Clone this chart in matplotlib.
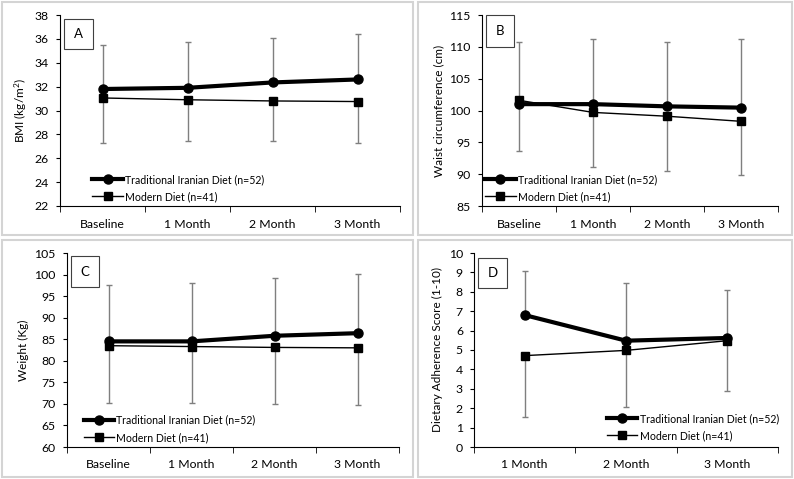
import matplotlib
matplotlib.use("Agg")
import matplotlib.pyplot as plt
from matplotlib.patches import Rectangle
import numpy as np

plt.rcParams['font.family'] = ['Lato', 'DejaVu Sans']
plt.rcParams['font.size'] = 8
plt.rcParams['mathtext.default'] = 'regular'

# values (means, and SD from error bar caps)
months4 = ['Baseline', '1 Month', '2 Month', '3 Month']
months3 = ['1 Month', '2 Month', '3 Month']

bmi_trad = [31.8, 31.9, 32.35, 32.6]
bmi_trad_sd = [3.7, 3.85, 3.7, 3.8]
bmi_mod = [31.05, 30.9, 30.8, 30.75]
bmi_mod_sd = [3.75, 3.45, 3.35, 3.45]

waist_trad = [101.0, 101.0, 100.65, 100.45]
waist_trad_sd = [9.8, 10.3, 10.15, 10.75]
waist_mod = [101.6, 99.7, 99.1, 98.3]
waist_mod_sd = [7.9, 8.5, 8.55, 8.5]

weight_trad = [84.5, 84.5, 85.8, 86.4]
weight_trad_sd = [13.1, 13.5, 13.4, 13.7]
weight_mod = [83.5, 83.3, 83.1, 83.0]
weight_mod_sd = [13.3, 13.1, 13.2, 13.3]

adh_trad = [6.8, 5.48, 5.62]
adh_trad_sd = [2.29, 2.97, 2.46]
adh_mod = [4.71, 4.98, 5.48]
adh_mod_sd = [3.15, 2.92, 2.61]

trad_label = 'Traditional Iranian Diet (n=52)'
mod_label = 'Modern Diet (n=41)'

W, H = 794, 479
fig = plt.figure(figsize=(W / 100, H / 100), dpi=100)


def px_axes(l, t, r, b):
    return fig.add_axes([l / W, 1 - b / H, (r - l) / W, (b - t) / H])


def frame(l, t, r, b):
    fig.patches.append(Rectangle((l / W, 1 - b / H), (r - l) / W, (b - t) / H,
                                 transform=fig.transFigure, fill=False,
                                 edgecolor='#d4d4d4', linewidth=1.5))


def panel(ax, cats, trad, trad_sd, mod, mod_sd, ylim, ystep, ylabel,
          letter, box, leg_anchor):
    x = np.arange(len(cats))
    # plus bars for traditional, minus bars for modern
    ax.errorbar(x, trad, yerr=[np.zeros(len(x)), trad_sd], fmt='none',
                ecolor='#7f7f7f', elinewidth=1, capsize=2.5, zorder=1)
    ax.errorbar(x, mod, yerr=[mod_sd, np.zeros(len(x))], fmt='none',
                ecolor='#7f7f7f', elinewidth=1, capsize=2.5, zorder=1)
    ax.plot(x, trad, color='black', linewidth=3, marker='o', markersize=6.5,
            label=trad_label, zorder=3)
    ax.plot(x, mod, color='black', linewidth=1, marker='s', markersize=5.5,
            label=mod_label, zorder=3)
    ax.set_xlim(-0.5, len(cats) - 0.5)
    ax.set_ylim(*ylim)
    ax.set_yticks(np.arange(ylim[0], ylim[1] + 0.01, ystep))
    ax.set_xticks(x)
    ax.set_xticklabels(cats)
    ax.set_xticks(np.arange(-0.5, len(cats), 1), minor=True)
    ax.tick_params(axis='x', which='major', length=0, pad=9, labelsize=8.8)
    ax.tick_params(axis='x', which='minor', length=4, direction='out')
    ax.tick_params(axis='y', length=3, direction='out', pad=5, labelsize=8.8)
    for s in ['top', 'right']:
        ax.spines[s].set_visible(False)
    ax.set_ylabel(ylabel, labelpad=4, fontsize=8.5)
    ax.legend(loc='lower left', bbox_to_anchor=leg_anchor, frameon=False,
              borderpad=0, borderaxespad=0, handlelength=2.9,
              handletextpad=0.2, labelspacing=0.6, fontsize=7.6)
    l, t, r, b = box
    fig.patches.append(Rectangle((l / W, 1 - b / H), (r - l) / W, (b - t) / H,
                                 transform=fig.transFigure, facecolor='white',
                                 edgecolor='#404040', linewidth=0.8, zorder=5))
    fig.text((l + r) / 2 / W, 1 - (t + b) / 2 / H, letter, ha='center',
             va='center', fontsize=9.5, zorder=6)


frame(2, 2, 413, 235)
frame(418, 2, 792, 235)
frame(2, 240, 413, 477)
frame(418, 240, 792, 477)

axA = px_axes(60, 15, 400, 206)
panel(axA, months4, bmi_trad, bmi_trad_sd, bmi_mod, bmi_mod_sd, (22, 38), 2,
      'BMI (kg/m$^{2}$)', 'A', (64, 19, 93, 49), (0.095, 0.02))

axB = px_axes(482, 15, 778, 206)
panel(axB, months4, waist_trad, waist_trad_sd, waist_mod, waist_mod_sd,
      (85, 115), 5, 'Waist circumference (cm)', 'B', (486, 15, 514, 47),
      (0.01, 0.02))

axC = px_axes(67, 253, 399, 447)
panel(axC, months4, weight_trad, weight_trad_sd, weight_mod, weight_mod_sd,
      (60, 105), 5, 'Weight (Kg)', 'C', (71, 256, 99, 287), (0.05, 0.02))

axD = px_axes(474, 253, 778, 447)
panel(axD, months3, adh_trad, adh_trad_sd, adh_mod, adh_mod_sd, (0, 10), 1,
      'Dietary Adherence Score (1-10)', 'D', (478, 258, 507, 288),
      (0.437, 0.03))

fig.savefig('out.png', dpi=100)
